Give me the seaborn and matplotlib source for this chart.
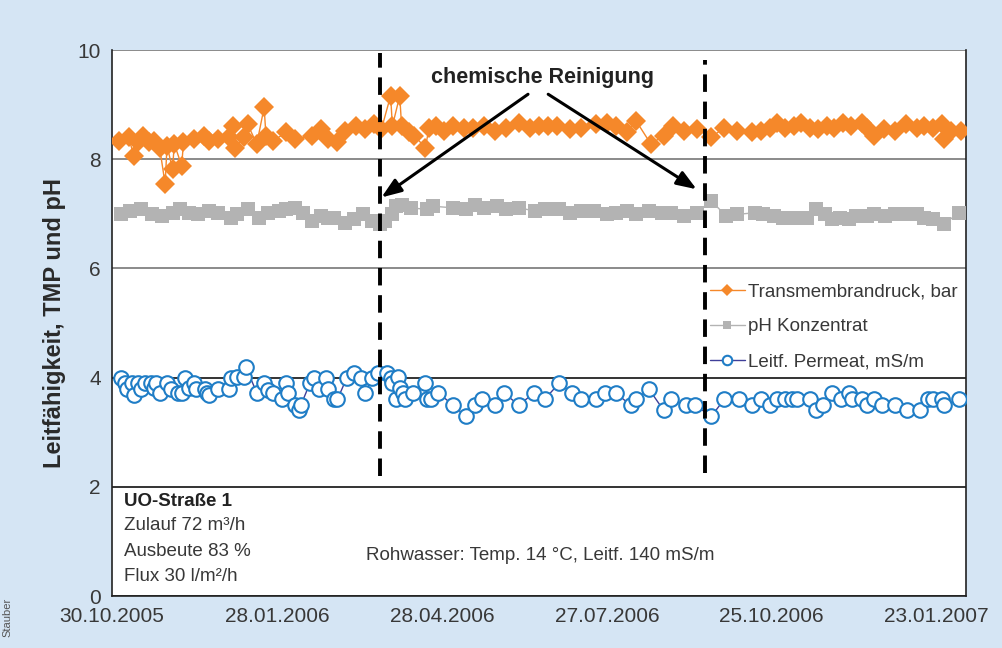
import pandas as pd
import matplotlib
matplotlib.use("Agg")
import matplotlib.pyplot as plt
import matplotlib.dates as mdates
from matplotlib.ticker import MultipleLocator
import seaborn as sns

# Start of the time axis, all series are stored as days after this date
START = pd.Timestamp("2005-10-30")

# Transmembrandruck, bar
tmp_days = [4, 9, 12, 14, 17, 20, 23, 26, 29, 30, 33, 34, 38, 39, 45, 50, 53, 58, 64, 66,
            67, 72, 74, 79, 83, 84, 88, 95, 100, 109, 114, 118, 123, 127, 133, 138, 143, 147,
            152, 153, 157, 158, 162, 165, 171, 173, 177, 181, 186, 192, 197, 203, 209, 215,
            222, 228, 233, 238, 243, 250, 256, 264, 270, 275, 281, 286, 294, 301, 306, 312,
            319, 327, 334, 341, 349, 354, 359, 363, 367, 372, 376, 381, 385, 390, 394, 399,
            403, 409, 412, 416, 421, 427, 433, 439, 443, 448, 453, 454, 458, 463]
tmp_values = [8.34, 8.40, 8.06, 8.31, 8.43, 8.31, 8.34, 8.21, 7.54, 8.25, 7.82, 8.28, 7.88,
              8.31, 8.37, 8.43, 8.34, 8.37, 8.40, 8.61, 8.21, 8.40, 8.64, 8.28, 8.95, 8.43,
              8.34, 8.49, 8.37, 8.43, 8.55, 8.37, 8.31, 8.52, 8.61, 8.55, 8.64, 8.55, 9.16,
              8.61, 9.16, 8.61, 8.49, 8.43, 8.21, 8.58, 8.61, 8.52, 8.61, 8.58, 8.58, 8.61,
              8.52, 8.58, 8.67, 8.58, 8.61, 8.60, 8.61, 8.55, 8.58, 8.64, 8.67, 8.61, 8.49,
              8.70, 8.28, 8.43, 8.61, 8.52, 8.55, 8.40, 8.58, 8.52, 8.49, 8.52, 8.58, 8.67,
              8.58, 8.61, 8.67, 8.58, 8.55, 8.61, 8.58, 8.67, 8.61, 8.67, 8.58, 8.43, 8.55,
              8.52, 8.64, 8.58, 8.61, 8.58, 8.64, 8.37, 8.52, 8.52]

# pH Konzentrat
ph_days = [5, 10, 16, 22, 27, 33, 37, 42, 47, 53, 58, 65, 68, 74, 80, 85, 91, 95, 100, 104,
           109, 114, 118, 121, 127, 132, 137, 142, 146, 149, 153, 155, 158, 163, 172, 175,
           186, 193, 198, 203, 210, 215, 222, 231, 236, 244, 250, 256, 263, 270, 275, 281,
           286, 293, 300, 305, 312, 319, 327, 335, 341, 351, 355, 361, 366, 372, 379, 384,
           389, 393, 397, 402, 406, 412, 416, 422, 427, 433, 439, 443, 448, 454, 462]
ph_values = [6.99, 7.05, 7.08, 6.99, 6.96, 7.02, 7.08, 7.02, 6.99, 7.05, 7.02, 6.93, 6.99,
             7.08, 6.93, 7.02, 7.05, 7.08, 7.11, 7.02, 6.87, 6.96, 6.93, 6.93, 6.84, 6.90,
             6.99, 6.87, 6.81, 6.87, 6.99, 7.14, 7.17, 7.11, 7.08, 7.14, 7.11, 7.08, 7.17,
             7.11, 7.14, 7.08, 7.11, 7.05, 7.08, 7.08, 7.02, 7.05, 7.05, 6.99, 7.02, 7.05,
             6.99, 7.05, 7.02, 7.02, 6.96, 7.02, 7.24, 6.96, 6.99, 7.02, 6.99, 6.96, 6.93,
             6.93, 6.93, 7.08, 6.99, 6.90, 6.93, 6.90, 6.96, 6.96, 6.99, 6.96, 6.99, 6.99,
             6.99, 6.93, 6.90, 6.81, 7.02]

# Leitf. Permeat, mS/m
lf_days = [5, 7, 8, 11, 12, 14, 16, 18, 21, 23, 24, 26, 30, 32, 36, 38, 40, 42, 45, 46, 51,
           52, 53, 58, 64, 65, 68, 72, 73, 79, 83, 85, 88, 93, 95, 96, 100, 102, 103, 108,
           110, 113, 117, 118, 121, 123, 128, 132, 136, 138, 142, 145, 150, 152, 153, 155,
           156, 157, 159, 160, 164, 171, 172, 174, 178, 186, 193, 198, 202, 209, 214, 222,
           230, 236, 244, 251, 256, 264, 269, 275, 283, 286, 293, 301, 305, 313, 318, 327,
           334, 342, 349, 354, 359, 363, 367, 371, 374, 381, 384, 388, 393, 398, 402, 404,
           409, 412, 416, 420, 427, 434, 441, 445, 448, 453, 454, 462]
lf_values = [4.00, 3.91, 3.79, 3.90, 3.69, 3.90, 3.79, 3.90, 3.90, 3.81, 3.90, 3.71, 3.90,
             3.79, 3.71, 3.71, 4.00, 3.81, 3.90, 3.79, 3.79, 3.72, 3.69, 3.79, 3.79, 3.99,
             4.01, 4.01, 4.20, 3.72, 3.90, 3.78, 3.72, 3.60, 3.90, 3.72, 3.50, 3.41, 3.49,
             3.90, 3.99, 3.79, 3.99, 3.79, 3.60, 3.60, 3.99, 4.09, 3.99, 3.71, 3.99, 4.09,
             4.09, 3.99, 3.90, 3.60, 4.02, 3.81, 3.72, 3.60, 3.72, 3.90, 3.60, 3.60, 3.72,
             3.50, 3.29, 3.50, 3.60, 3.50, 3.71, 3.50, 3.71, 3.60, 3.90, 3.71, 3.60, 3.60,
             3.71, 3.71, 3.50, 3.60, 3.79, 3.40, 3.60, 3.50, 3.50, 3.29, 3.60, 3.60, 3.50,
             3.60, 3.50, 3.60, 3.60, 3.60, 3.60, 3.60, 3.41, 3.50, 3.72, 3.60, 3.72, 3.60,
             3.60, 3.50, 3.60, 3.50, 3.50, 3.41, 3.41, 3.60, 3.60, 3.60, 3.50, 3.60]

# chemische Reinigung (days after START)
cleaning_days = [146, 323.5]
xtick_days = [0, 90, 180, 270, 360, 450]

BG = "#d5e5f4"
ORANGE = "#f5882a"
GREY = "#b3b3b3"
BLUE = "#1f7dc6"
NAVY = "#3f3f99"
TXT = "#383838"


def to_dates(days):
    return START + pd.to_timedelta(days, unit="D")


tmp = pd.DataFrame({"date": to_dates(tmp_days), "value": tmp_values})
ph = pd.DataFrame({"date": to_dates(ph_days), "value": ph_values})
lf = pd.DataFrame({"date": to_dates(lf_days), "value": lf_values})

sns.set_style("white")
plt.rcParams["font.family"] = ["Liberation Sans", "DejaVu Sans"]

fig = plt.figure(figsize=(10.02, 6.48), dpi=100, facecolor=BG)
ax = fig.add_axes([0.1118, 0.0802, 0.8523, 0.8426])
ax.set_facecolor("white")

sns.lineplot(data=tmp, x="date", y="value", ax=ax, color=ORANGE, lw=1, marker="D",
             markersize=10, markeredgewidth=0, estimator=None, sort=False,
             label="Transmembrandruck, bar", zorder=3)
sns.lineplot(data=ph, x="date", y="value", ax=ax, color=GREY, lw=1, marker="s",
             markersize=9.5, markeredgewidth=0, estimator=None, sort=False,
             label="pH Konzentrat", zorder=3)
sns.lineplot(data=lf, x="date", y="value", ax=ax, color=NAVY, lw=1, marker="o",
             markersize=10.5, markerfacecolor="white", markeredgecolor=BLUE,
             markeredgewidth=1.5, estimator=None, sort=False,
             label="Leitf. Permeat, mS/m", zorder=3)

# axes limits and ticks
ax.set_ylim(0, 10)
ax.set_xlim(to_dates(0), to_dates(466))
ax.yaxis.set_major_locator(MultipleLocator(2))
ax.yaxis.set_minor_locator(MultipleLocator(1))
ax.set_xticks(to_dates(xtick_days))
ax.set_xticks(to_dates(list(range(30, 466, 30))), minor=True)
ax.xaxis.set_major_formatter(mdates.DateFormatter("%d.%m.%Y"))
ax.tick_params(axis="x", which="major", direction="inout", length=10, width=1,
               labelsize=15, colors=TXT, pad=3)
ax.tick_params(axis="x", which="minor", direction="in", length=5, width=1, color=TXT)
ax.tick_params(axis="y", which="major", direction="out", length=6, width=1,
               labelsize=15, colors=TXT, pad=2)
ax.tick_params(axis="y", which="minor", direction="out", length=4, width=1, color=TXT)

ax.yaxis.grid(True, which="major", lw=1.2)
for val, gl in zip(ax.get_yticks(), ax.get_ygridlines()):
    gl.set_color("#777777" if val >= 6 else "#111111")

for side in ["left", "bottom", "right"]:
    ax.spines[side].set_color("#222222")
    ax.spines[side].set_linewidth(1.2)
ax.spines["top"].set_visible(False)

ax.set_xlabel("")
ax.set_ylabel("Leitfähigkeit, TMP und pH", fontsize=17, fontweight="bold",
              color="#2a2a2a", labelpad=8)

# cleaning markers
ax.vlines(to_dates(cleaning_days[:1]), 2.2, 9.95, colors="black", lw=2.8,
          linestyles=(0, (4.5, 2.5)), zorder=4)
ax.vlines(to_dates(cleaning_days[1:]), 2.25, 9.82, colors="black", lw=2.8,
          linestyles=(0, (4.5, 2.5)), zorder=4)

ax.text(to_dates(235), 9.5, "chemische Reinigung", ha="center", va="center",
        fontsize=15.5, fontweight="bold", color="#222222")
arrow = dict(arrowstyle="-|>,head_length=1.2,head_width=0.45", color="black", lw=2.2,
             shrinkA=0, shrinkB=0)
ax.annotate("", xy=(to_dates(147), 7.30), xytext=(to_dates(227), 9.19), arrowprops=arrow)
ax.annotate("", xy=(to_dates(319), 7.45), xytext=(to_dates(238), 9.19), arrowprops=arrow)

# info texts
ax.text(0.014, 0.173, "UO-Straße 1", transform=ax.transAxes, fontsize=13.5,
        fontweight="bold", color="#222222", va="center")
ax.text(0.014, 0.129, "Zulauf 72 m³/h", transform=ax.transAxes, fontsize=13.5,
        color=TXT, va="center")
ax.text(0.014, 0.082, "Ausbeute 83 %", transform=ax.transAxes, fontsize=13.5,
        color=TXT, va="center")
ax.text(0.014, 0.036, "Flux 30 l/m²/h", transform=ax.transAxes, fontsize=13.5,
        color=TXT, va="center")
ax.text(0.297, 0.074, "Rohwasser: Temp. 14 °C, Leitf. 140 mS/m", transform=ax.transAxes,
        fontsize=13.5, color=TXT, va="center")

ax.legend(loc="upper left", bbox_to_anchor=(0.680, 0.604), frameon=False, fontsize=13.5,
          handlelength=1.9, handletextpad=0.15, labelspacing=0.95, markerscale=0.65,
          labelcolor=TXT)

fig.text(0.002, 0.02, "Stauber", rotation=90, fontsize=8, color="#555555")

fig.savefig("out.png", dpi=100, facecolor=BG)
